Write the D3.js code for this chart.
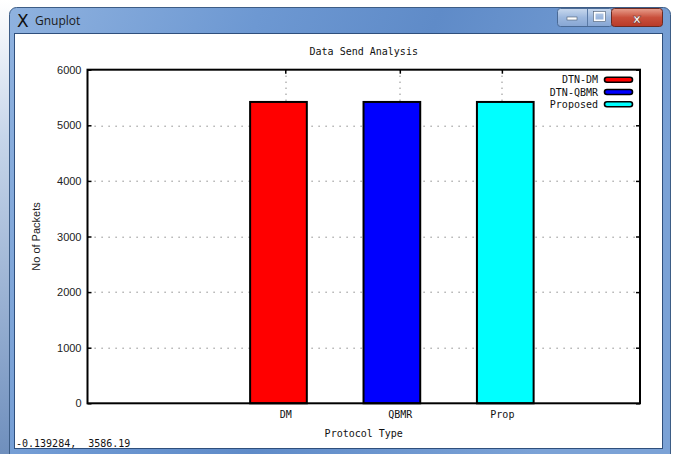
<!DOCTYPE html>
<html>
<head>
<meta charset="utf-8">
<script src="https://cdn.jsdelivr.net/npm/d3@7"></script>
<style>
  html, body { margin: 0; padding: 0; background: #ffffff; }
  svg { display: block; }
</style>
</head>
<body>
<div id="chart"></div>
<script>
// chart values
const categories = ["DM", "QBMR", "Prop"]
const barPositions = [1, 2, 3]
const packets = [5420, 5420, 5420]
const seriesNames = ["DTN-DM", "DTN-QBMR", "Proposed"]
const seriesColors = ["#ff0000", "#0000ff", "#00ffff"]
const xTickPositions = [1.06, 2.07, 2.97]
const yTicks = [0, 1000, 2000, 3000, 4000, 5000, 6000]
const statusText = "-0.139284,  3586.19"

const drawChart = () => {
  const dataset = categories.map((c, i) => ({
    name: seriesNames[i],
    category: c,
    x: barPositions[i],
    value: packets[i],
    color: seriesColors[i],
  }))

  const xAccessor = d => d.x
  const valueAccessor = d => d.value

  let dimensions = {
    width: 675,
    height: 454,
    margin: {
      top: 69.7,
      right: 35,
      bottom: 50.7,
      left: 87.5,
    },
  }
  dimensions.boundedWidth = dimensions.width
    - dimensions.margin.left
    - dimensions.margin.right
  dimensions.boundedHeight = dimensions.height
    - dimensions.margin.top
    - dimensions.margin.bottom

  const wrapper = d3.select("#chart")
    .append("svg")
      .attr("width", dimensions.width)
      .attr("height", dimensions.height)

  // ---- window chrome (Windows 7 style frame) ----
  const defs = wrapper.append("defs")
  const frameGrad = defs.append("linearGradient")
    .attr("id", "frameGrad")
    .attr("x1", 0).attr("y1", 0).attr("x2", 1).attr("y2", 0.3)
  frameGrad.append("stop").attr("offset", "0%").attr("stop-color", "#8fb2df")
  frameGrad.append("stop").attr("offset", "35%").attr("stop-color", "#6d98d2")
  frameGrad.append("stop").attr("offset", "60%").attr("stop-color", "#5f8bc8")
  frameGrad.append("stop").attr("offset", "100%").attr("stop-color", "#7ba2d6")

  const btnGrad = defs.append("linearGradient")
    .attr("id", "btnGrad")
    .attr("x1", 0).attr("y1", 0).attr("x2", 0).attr("y2", 1)
  btnGrad.append("stop").attr("offset", "0%").attr("stop-color", "#c9d9ee")
  btnGrad.append("stop").attr("offset", "50%").attr("stop-color", "#9db8de")
  btnGrad.append("stop").attr("offset", "100%").attr("stop-color", "#86a6d4")

  const closeGrad = defs.append("linearGradient")
    .attr("id", "closeGrad")
    .attr("x1", 0).attr("y1", 0).attr("x2", 0).attr("y2", 1)
  closeGrad.append("stop").attr("offset", "0%").attr("stop-color", "#e8a08e")
  closeGrad.append("stop").attr("offset", "50%").attr("stop-color", "#c9503c")
  closeGrad.append("stop").attr("offset", "100%").attr("stop-color", "#b83a28")

  const leftGrad = defs.append("linearGradient")
    .attr("id", "leftGrad")
    .attr("x1", 0).attr("y1", 0).attr("x2", 0).attr("y2", 1)
  leftGrad.append("stop").attr("offset", "0%").attr("stop-color", "#ffffff")
  leftGrad.append("stop").attr("offset", "30%").attr("stop-color", "#c7d6ea")
  leftGrad.append("stop").attr("offset", "100%").attr("stop-color", "#6f8fbd")

  const chrome = wrapper.append("g").attr("class", "chrome")
  chrome.append("rect")
    .attr("x", 0).attr("y", 0)
    .attr("width", 10).attr("height", dimensions.height)
    .attr("fill", "url(#leftGrad)")
  chrome.append("rect")
    .attr("x", 9.5).attr("y", 7.5)
    .attr("width", 661).attr("height", 460)
    .attr("rx", 7)
    .attr("fill", "url(#frameGrad)")
    .attr("stroke", "#3d5d86")
  chrome.append("rect")
    .attr("x", 14.5).attr("y", 33.5)
    .attr("width", 648).attr("height", 415)
    .attr("fill", "#ffffff")
    .attr("stroke", "#2f4f7c")

  // app icon + caption
  chrome.append("text")
    .attr("x", 17).attr("y", 27)
    .attr("font-family", "DejaVu Sans")
    .attr("font-size", 17)
    .attr("fill", "#111111")
    .text("X")
  chrome.append("text")
    .attr("x", 35).attr("y", 25)
    .attr("font-family", "Open Sans")
    .attr("font-size", 12)
    .attr("fill", "#1a1a1a")
    .text("Gnuplot")

  // caption buttons
  const buttons = chrome.append("g")
  buttons.append("rect")
    .attr("x", 557.5).attr("y", 8.5)
    .attr("width", 55).attr("height", 18).attr("rx", 3)
    .attr("fill", "url(#btnGrad)")
    .attr("stroke", "#4a6a96")
  buttons.append("line")
    .attr("x1", 587.5).attr("x2", 587.5)
    .attr("y1", 9).attr("y2", 26)
    .attr("stroke", "#5a7aa6")
  buttons.append("rect")
    .attr("x", 611.5).attr("y", 8.5)
    .attr("width", 51).attr("height", 18).attr("rx", 3)
    .attr("fill", "url(#closeGrad)")
    .attr("stroke", "#6b2a22")
  buttons.append("rect")
    .attr("x", 567).attr("y", 17)
    .attr("width", 10).attr("height", 3)
    .attr("fill", "#ffffff").attr("stroke", "#4a5a70").attr("stroke-width", 0.6)
  buttons.append("rect")
    .attr("x", 594.5).attr("y", 12.5)
    .attr("width", 10).attr("height", 8)
    .attr("fill", "none").attr("stroke", "#ffffff").attr("stroke-width", 2)
  buttons.append("rect")
    .attr("x", 593.5).attr("y", 11.5)
    .attr("width", 12).attr("height", 10)
    .attr("fill", "none").attr("stroke", "#4a5a70").attr("stroke-width", 0.6)
  buttons.append("text")
    .attr("x", 637).attr("y", 22.5)
    .attr("text-anchor", "middle")
    .attr("font-family", "DejaVu Sans")
    .attr("font-weight", "bold")
    .attr("font-size", 13)
    .attr("fill", "#ffffff")
    .attr("stroke", "#6a2a20").attr("stroke-width", 0.5)
    .text("x")

  // ---- plot ----
  const bounds = wrapper.append("g")
    .style("transform", `translate(${
      dimensions.margin.left
    }px, ${
      dimensions.margin.top
    }px)`)

  const xScale = d3.scaleLinear()
    .domain([-0.684, 4.188])
    .range([0, dimensions.boundedWidth])
  const yScale = d3.scaleLinear()
    .domain([0, 6000])
    .range([dimensions.boundedHeight, 0])

  const barWidth = xScale(0.5) - xScale(0)

  // dotted grid
  bounds.append("g")
    .attr("class", "y-grid")
    .selectAll("line")
    .data(yTicks.slice(1, -1))
    .join("line")
      .attr("x1", 0)
      .attr("x2", dimensions.boundedWidth)
      .attr("y1", d => Math.round(yScale(d)) + 0.5)
      .attr("y2", d => Math.round(yScale(d)) + 0.5)
      .attr("stroke", "#6e6e6e")
      .attr("stroke-dasharray", "1.2,5.8")
  bounds.append("g")
    .attr("class", "x-grid")
    .selectAll("line")
    .data(xTickPositions)
    .join("line")
      .attr("x1", d => Math.round(xScale(d)) + 0.5)
      .attr("x2", d => Math.round(xScale(d)) + 0.5)
      .attr("y1", 0)
      .attr("y2", dimensions.boundedHeight)
      .attr("stroke", "#555555")
      .attr("stroke-dasharray", "1,5")

  // axes
  const yAxisGenerator = d3.axisLeft()
    .scale(yScale)
    .tickValues(yTicks)
    .tickFormat(d3.format("d"))
    .tickSize(-4)
    .tickPadding(6)
  const yAxis = bounds.append("g")
    .attr("class", "y-axis")
    .call(yAxisGenerator)
  yAxis.select(".domain").remove()
  yAxis.selectAll("text")
    .attr("font-family", "Liberation Sans")
    .attr("font-size", 11)
    .attr("fill", "#222222")

  const yAxisRight = bounds.append("g")
    .attr("class", "y-axis-right")
    .style("transform", `translateX(${dimensions.boundedWidth}px)`)
    .call(d3.axisRight().scale(yScale).tickValues(yTicks).tickSize(-4).tickFormat(""))
  yAxisRight.select(".domain").remove()

  const xAxisTop = bounds.append("g")
    .attr("class", "x-axis-top")
    .call(d3.axisTop().scale(xScale).tickValues(xTickPositions).tickSize(-4).tickFormat(""))
  xAxisTop.select(".domain").remove()

  const xAxisGenerator = d3.axisBottom()
    .scale(xScale)
    .tickValues(xTickPositions)
    .tickFormat((d, i) => categories[i])
    .tickSize(-4)
    .tickPadding(8)
  const xAxis = bounds.append("g")
    .attr("class", "x-axis")
    .style("transform", `translateY(${dimensions.boundedHeight}px)`)
    .call(xAxisGenerator)
  xAxis.select(".domain").remove()
  xAxis.selectAll("text")
    .attr("font-family", "DejaVu Sans Mono")
    .attr("font-size", 10)
    .attr("fill", "#111111")

  bounds.selectAll(".tick line")
    .attr("stroke", "#000000")
    .attr("stroke-width", 1.5)

  // bars
  bounds.append("g")
    .attr("class", "bars")
    .selectAll("rect")
    .data(dataset)
    .join("rect")
      .attr("x", d => xScale(xAccessor(d)) - barWidth / 2)
      .attr("y", d => yScale(valueAccessor(d)))
      .attr("width", barWidth)
      .attr("height", d => dimensions.boundedHeight - yScale(valueAccessor(d)))
      .attr("fill", d => d.color)
      .attr("stroke", "#000000")
      .attr("stroke-width", 2)

  // frame
  bounds.append("rect")
    .attr("x", 0)
    .attr("y", 0)
    .attr("width", dimensions.boundedWidth)
    .attr("height", dimensions.boundedHeight)
    .attr("fill", "none")
    .attr("stroke", "#000000")
    .attr("stroke-width", 2)

  // legend
  const legend = bounds.append("g")
    .attr("class", "legend")
    .style("transform", `translate(${dimensions.boundedWidth - 42}px, 10px)`)
  const legendItems = legend.selectAll("g")
    .data(dataset)
    .join("g")
      .attr("transform", (d, i) => `translate(0, ${i * 12.3})`)
  legendItems.append("text")
    .attr("x", 0)
    .attr("y", 0)
    .attr("dy", "0.35em")
    .attr("text-anchor", "end")
    .attr("font-family", "DejaVu Sans Mono")
    .attr("font-size", 10)
    .attr("fill", "#111111")
    .text(d => d.name)
  legendItems.append("rect")
    .attr("x", 6.5)
    .attr("y", -2.5)
    .attr("width", 28)
    .attr("height", 5)
    .attr("rx", 2.5)
    .attr("fill", d => d.color)
    .attr("stroke", "#000000")
    .attr("stroke-width", 1.6)

  // titles
  wrapper.append("text")
    .attr("x", dimensions.margin.left + dimensions.boundedWidth / 2)
    .attr("y", 55)
    .attr("text-anchor", "middle")
    .attr("font-family", "DejaVu Sans Mono")
    .attr("font-size", 10)
    .attr("fill", "#111111")
    .text("Data Send Analysis")

  wrapper.append("text")
    .attr("x", dimensions.margin.left + dimensions.boundedWidth / 2)
    .attr("y", 436.5)
    .attr("text-anchor", "middle")
    .attr("font-family", "DejaVu Sans Mono")
    .attr("font-size", 10)
    .attr("fill", "#111111")
    .text("Protocol Type")

  wrapper.append("text")
    .attr("transform", `translate(40, ${dimensions.margin.top + dimensions.boundedHeight / 2}) rotate(-90)`)
    .attr("text-anchor", "middle")
    .attr("font-family", "Liberation Sans")
    .attr("font-size", 11)
    .attr("fill", "#222222")
    .text("No of Packets")

  wrapper.append("text")
    .attr("x", 16)
    .attr("y", 447)
    .attr("font-family", "DejaVu Sans Mono")
    .attr("font-size", 10)
    .attr("fill", "#111111")
    .style("white-space", "pre")
    .text(statusText)
}

drawChart()
</script>
</body>
</html>
